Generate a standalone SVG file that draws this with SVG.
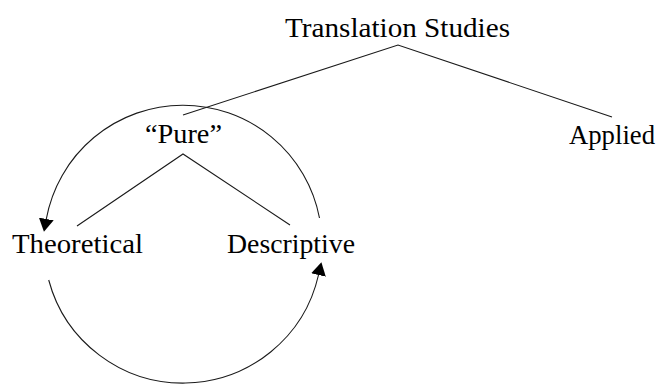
<svg xmlns="http://www.w3.org/2000/svg" width="659" height="385" viewBox="0 0 659 385">
<style>
text{font-family:"Liberation Serif","Times New Roman",serif;font-size:27px;fill:#000;text-anchor:middle}
.ln{fill:none;stroke:#1a1a1a;stroke-width:1.1}
</style>
<defs>
<marker id="ah" viewBox="0 0 13 15" refX="0" refY="7.5" markerWidth="13" markerHeight="15" markerUnits="userSpaceOnUse" orient="auto">
<path d="M0,0 L13,7.5 L0,15 z" fill="#000"/>
</marker>
</defs>
<rect width="659" height="385" fill="#fff"/>
<g id="connectors">
<path class="ln" d="M183,115 L398,45 L612,117"/>
<path class="ln" d="M77,226 L183,154 L290,225"/>
<path class="ln" d="M319.5,218 A139,139 0 0 0 46.3,219" marker-end="url(#ah)"/>
<path class="ln" d="M48.7,280 A139,139 0 0 0 318.5,275" marker-end="url(#ah)"/>
</g>
<g id="translation-studies"><text x="397.5" y="37" textLength="225" lengthAdjust="spacingAndGlyphs">Translation Studies</text></g>
<g id="pure"><text x="183.5" y="143" textLength="77" lengthAdjust="spacingAndGlyphs">“Pure”</text></g>
<g id="applied"><text x="612" y="144" textLength="86" lengthAdjust="spacingAndGlyphs">Applied</text></g>
<g id="theoretical"><text x="77.5" y="253" textLength="131" lengthAdjust="spacingAndGlyphs">Theoretical</text></g>
<g id="descriptive"><text x="291" y="253" textLength="128" lengthAdjust="spacingAndGlyphs">Descriptive</text></g>
</svg>
